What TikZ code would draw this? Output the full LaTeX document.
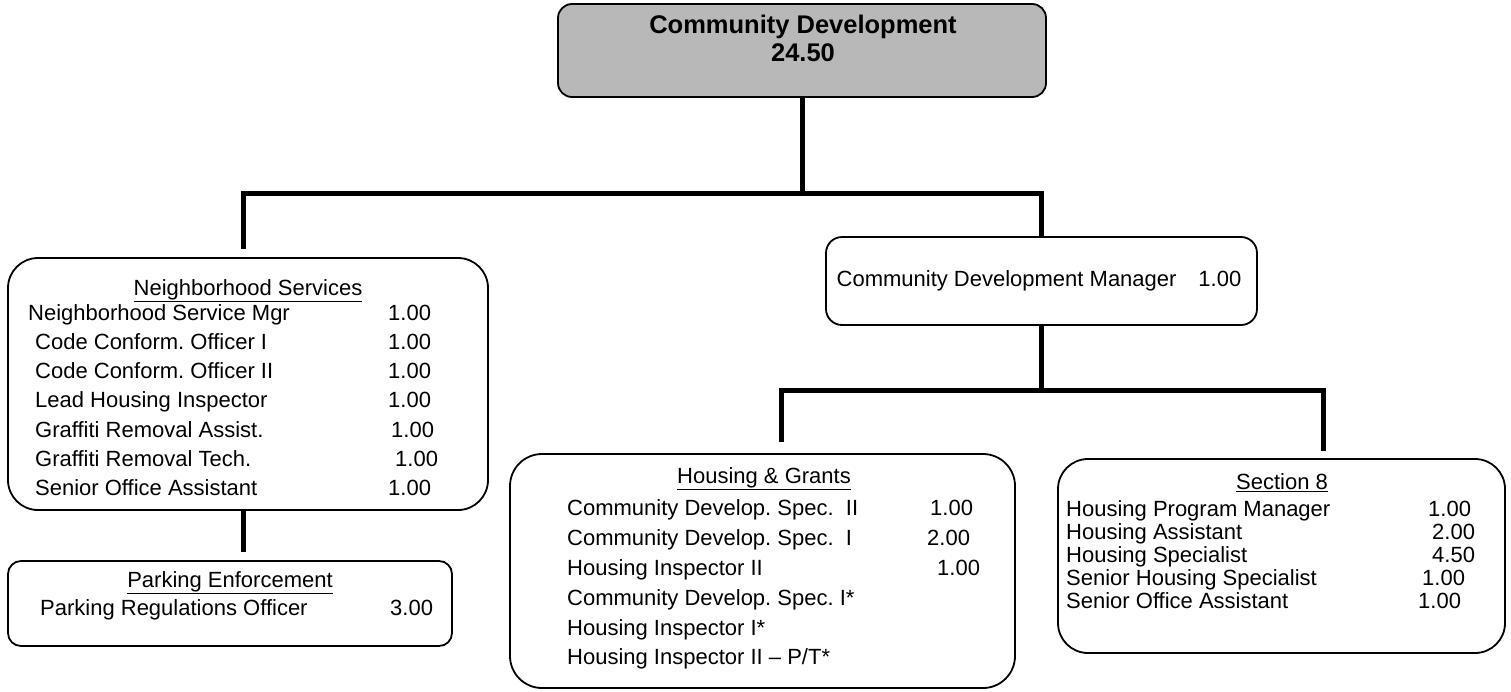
\documentclass[tikz,border=0pt]{standalone}
\usepackage{fontspec}
\setmainfont{Liberation Sans}
\frenchspacing
\begin{document}
\begin{tikzpicture}[x=1pt,y=-1pt,
  box/.style={draw=black, line width=1.8pt, fill=white, rounded corners=#1, inner sep=0pt},
  box/.default=14pt,
  conn/.style={line width=5pt, line join=miter, line cap=butt},
  txt/.style={anchor=base west, inner sep=0pt, font=\fontsize{22}{26}\selectfont},
  head/.style={anchor=base, inner sep=0pt, font=\fontsize{22}{26}\selectfont},
  bighead/.style={anchor=base, inner sep=0pt, font=\fontsize{25.5}{30}\selectfont\bfseries},
]
\useasboundingbox (0,0) rectangle (1511,691);

% ---- boxes ----
\node[box=14pt, fill=black!28, minimum width=488pt, minimum height=93pt] (top) at (802,50.5) {};
\node[box=30pt, minimum width=480pt, minimum height=252pt] (ns) at (248,384) {};
\node[box=13pt, minimum width=444pt, minimum height=85pt] (park) at (230,603.5) {};
\node[box=16pt, minimum width=431pt, minimum height=88pt] (cdm) at (1041.5,281) {};
\node[box=32pt, minimum width=505pt, minimum height=234pt] (hg) at (762.5,571) {};
\node[box=30pt, minimum width=447pt, minimum height=194pt] (s8) at (1281.5,556) {};

% ---- connectors ----
\coordinate (bus1) at (0,193);
\coordinate (bus2) at (0,390);
\coordinate (nsx) at (243,0);
\coordinate (hgx) at (781,0);
\coordinate (s8x) at (1323,0);

\draw[conn] (top.south) -- (top.south |- bus1);
\draw[conn, shorten <=8pt] (nsx |- ns.north) |- (bus1 -| cdm.north) -- (cdm.north);
\draw[conn, shorten >=8pt] (nsx |- ns.south) -- (nsx |- park.north);
\draw[conn] (cdm.south) -- (cdm.south |- bus2);
\draw[conn, shorten <=11pt, shorten >=7pt] (hgx |- hg.north) |- (bus2 -| s8x) -- (s8x |- s8.north);

% ---- department head ----
\node[bighead] (toph) at (803,33) {Community Development};
\node[bighead] (topv) at (803,61) {24.50};

% ---- Neighborhood Services ----
\node[head] (nsh) at (248,295) {\underline{Neighborhood Services}};
\node[txt] (ns1) at (28,320.5) {Neighborhood Service Mgr};
\node[txt] (ns2) at (35,349.5) {Code Conform. Officer I};
\node[txt] (ns3) at (35,378.5) {Code Conform. Officer II};
\node[txt] (ns4) at (35,407.5) {Lead Housing Inspector};
\node[txt] (ns5) at (35,437.5) {Graffiti Removal Assist.};
\node[txt] (ns6) at (35,466.5) {Graffiti Removal Tech.};
\node[txt] (ns7) at (35,495.5) {Senior Office Assistant};
\node[txt] (ns1v) at (388,320.5) {1.00};
\node[txt] (ns2v) at (388,349.5) {1.00};
\node[txt] (ns3v) at (388,378.5) {1.00};
\node[txt] (ns4v) at (388,407.5) {1.00};
\node[txt] (ns5v) at (391,437.5) {1.00};
\node[txt] (ns6v) at (395,466.5) {1.00};
\node[txt] (ns7v) at (388,495.5) {1.00};

% ---- Parking Enforcement ----
\node[head] (parkh) at (230,587.5) {\underline{Parking Enforcement}};
\node[txt] (park1) at (40,615.5) {Parking Regulations Officer};
\node[txt] (park1v) at (390,615.5) {3.00};

% ---- Community Development Manager ----
\node[inner sep=0pt, font=\fontsize{22}{26}\selectfont] (cdmt) at (1039,281) {Community Development Manager\hspace*{22pt}1.00};

% ---- Housing & Grants ----
\node[head] (hgh) at (764,483.5) {\underline{Housing \& Grants}};
\node[txt] (hg1) at (567,515.5) {Community Develop. Spec.\ \ II};
\node[txt] (hg2) at (567,545.5) {Community Develop. Spec.\ \ I};
\node[txt] (hg3) at (567,575.5) {Housing Inspector II};
\node[txt] (hg4) at (567,605.5) {Community Develop. Spec. I*};
\node[txt] (hg5) at (567,635.5) {Housing Inspector I*};
\node[txt] (hg6) at (567,664.5) {Housing Inspector II -- P/T*};
\node[txt] (hg1v) at (930,515.5) {1.00};
\node[txt] (hg2v) at (927,545.5) {2.00};
\node[txt] (hg3v) at (937,575.5) {1.00};

% ---- Section 8 ----
\node[head] (s8h) at (1282,489.5) {\underline{Section 8}};
\node[txt] (s81) at (1066,516.5) {Housing Program Manager};
\node[txt] (s82) at (1066,539.5) {Housing Assistant};
\node[txt] (s83) at (1066,562.5) {Housing Specialist};
\node[txt] (s84) at (1066,585.5) {Senior Housing Specialist};
\node[txt] (s85) at (1066,608.5) {Senior Office Assistant};
\node[txt] (s81v) at (1428,516.5) {1.00};
\node[txt] (s82v) at (1432,539.5) {2.00};
\node[txt] (s83v) at (1432,562.5) {4.50};
\node[txt] (s84v) at (1422,585.5) {1.00};
\node[txt] (s85v) at (1418,608.5) {1.00};
\end{tikzpicture}
\end{document}
